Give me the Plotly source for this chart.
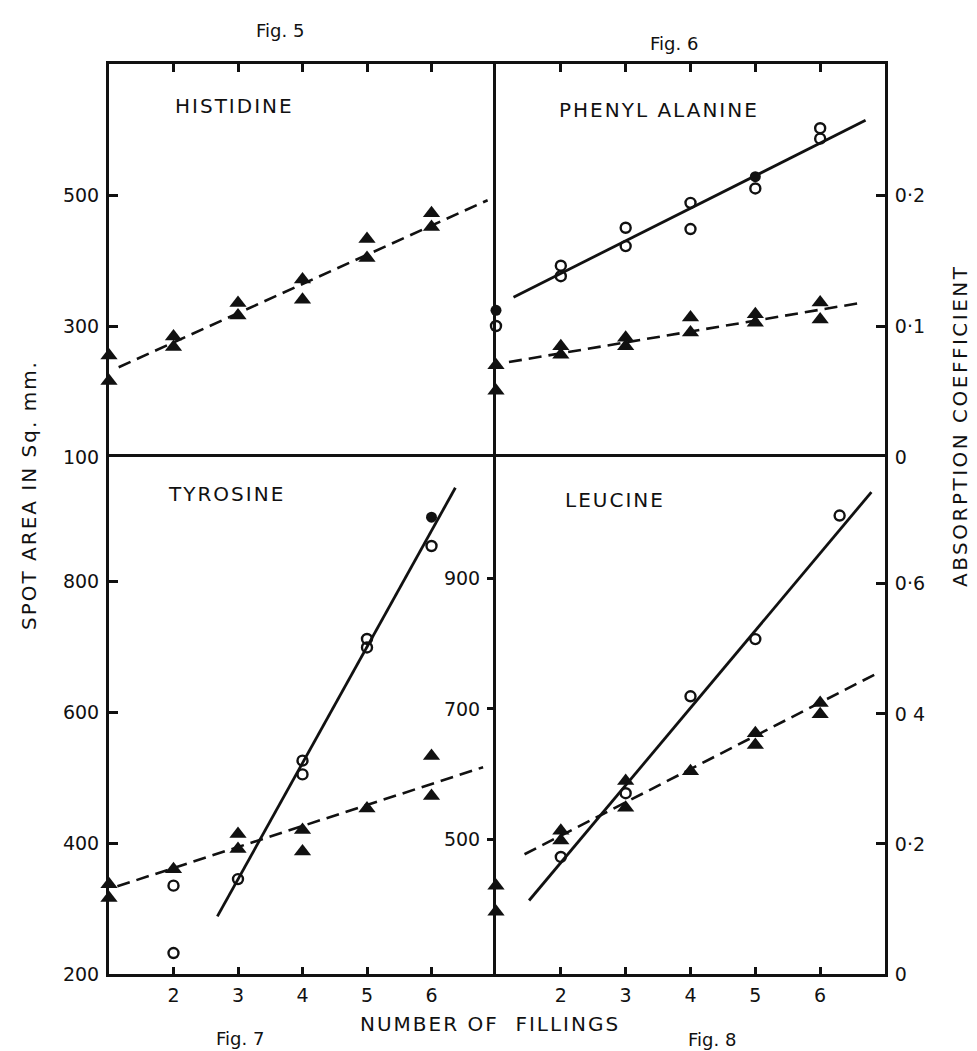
import plotly.graph_objects as go

# ---------------- data ----------------
fillings_ticks = [2, 3, 4, 5, 6]

# Fig. 5  HISTIDINE  (spot area, sq. mm)
his_x = [1, 1, 2, 2, 3, 3, 4, 4, 5, 5, 6, 6]
his_y = [255, 216, 284, 268, 335, 316, 371, 340, 433, 404, 472, 451]
his_fit_x = [1.15, 6.87]
his_fit_y = [237, 492]

# Fig. 6  PHENYL ALANINE
phe_area_x = [1, 1, 2, 2, 3, 3, 4, 4, 5, 5, 6, 6]
phe_area_y = [240, 201, 269, 256, 282, 269, 313, 290, 318, 305, 336, 310]
phe_area_fit_x = [1.2, 6.67]
phe_area_fit_y = [245, 336]
phe_abs_x = [1, 2, 2, 3, 3, 4, 4, 5, 6, 6]
phe_abs_y = [0.100, 0.146, 0.138, 0.175, 0.161, 0.194, 0.174, 0.205, 0.251, 0.243]
phe_abs_filled_x = [1, 5]
phe_abs_filled_y = [0.112, 0.214]
phe_abs_fit_x = [1.27, 6.7]
phe_abs_fit_y = [0.122, 0.257]

# Fig. 7  TYROSINE
tyr_area_x = [1, 1, 2, 3, 3, 4, 4, 5, 6, 6]
tyr_area_y = [337, 316, 360, 414, 391, 420, 387, 453, 533, 472]
tyr_area_fit_x = [1.13, 6.8]
tyr_area_fit_y = [334, 516]
tyr_open_x = [2, 2, 3, 4, 4, 5, 5, 6]
tyr_open_y = [335, 232, 345, 526, 505, 712, 699, 854]
tyr_filled_x = [6]
tyr_filled_y = [898]
tyr_fit_x = [2.68, 6.37]
tyr_fit_y = [288, 943]

# Fig. 8  LEUCINE
leu_area_x = [1, 1, 2, 2, 3, 3, 4, 5, 5, 6, 6]
leu_area_y = [430, 390, 514, 499, 590, 549, 605, 663, 645, 709, 692]
leu_area_fit_x = [1.44, 6.85]
leu_area_fit_y = [478, 753]
leu_abs_x = [2, 3, 4, 5, 6.3]
leu_abs_y = [0.180, 0.278, 0.427, 0.515, 0.705]
leu_abs_fit_x = [1.51, 6.79]
leu_abs_fit_y = [0.113, 0.741]

# tick labels
area_top_ticks = [100, 300, 500]
area_bl_ticks = [200, 400, 600, 800]
area_br_ticks = [500, 700, 900]
abs_top_ticks = [0, 0.1, 0.2]
abs_top_text = ["0", "0·1", "0·2"]
abs_bot_ticks = [0, 0.2, 0.4, 0.6]
abs_bot_text = ["0", "0·2", "0 4", "0·6"]

# ---------------- layout geometry ----------------
W, H = 977, 1051
xl, xm, xr = 101 / W, 488 / W, 877 / W
yt, ym, yb = 1 - 56 / H, 1 - 449 / H, 1 - 966 / H

FONT = "DejaVu Sans"
BLK = "#111111"

fig = go.Figure()

tri = dict(symbol="triangle-up", size=15, color=BLK)
opc = dict(symbol="circle-open", size=10, color=BLK, line=dict(width=2.4, color=BLK))
flc = dict(symbol="circle", size=11, color=BLK)
dash_line = dict(color=BLK, width=2.6, dash="13px,7px")
solid_line = dict(color=BLK, width=2.8)


def add(x, y, xa, ya, mode, marker=None, line=None):
    kw = dict(x=x, y=y, xaxis=xa, yaxis=ya, mode=mode, showlegend=False, hoverinfo="skip",
              cliponaxis=False)
    if marker:
        kw["marker"] = marker
    if line:
        kw["line"] = line
    fig.add_trace(go.Scatter(**kw))


# Fig 5
add(his_fit_x, his_fit_y, "x", "y", "lines", line=dash_line)
add(his_x, his_y, "x", "y", "markers", marker=tri)
# Fig 6
add(phe_area_fit_x, phe_area_fit_y, "x2", "y5", "lines", line=dash_line)
add(phe_area_x, phe_area_y, "x2", "y5", "markers", marker=tri)
add(phe_abs_fit_x, phe_abs_fit_y, "x2", "y2", "lines", line=solid_line)
add(phe_abs_x, phe_abs_y, "x2", "y2", "markers", marker=opc)
add(phe_abs_filled_x, phe_abs_filled_y, "x2", "y2", "markers", marker=flc)
# Fig 7
add(tyr_area_fit_x, tyr_area_fit_y, "x3", "y3", "lines", line=dash_line)
add(tyr_area_x, tyr_area_y, "x3", "y3", "markers", marker=tri)
add(tyr_fit_x, tyr_fit_y, "x3", "y3", "lines", line=solid_line)
add(tyr_open_x, tyr_open_y, "x3", "y3", "markers", marker=opc)
add(tyr_filled_x, tyr_filled_y, "x3", "y3", "markers", marker=flc)
# Fig 8
add(leu_area_fit_x, leu_area_fit_y, "x4", "y4", "lines", line=dash_line)
add(leu_area_x, leu_area_y, "x4", "y4", "markers", marker=tri)
add(leu_abs_fit_x, leu_abs_fit_y, "x4", "y6", "lines", line=solid_line)
add(leu_abs_x, leu_abs_y, "x4", "y6", "markers", marker=opc)

tickfont = dict(family=FONT, size=19, color=BLK)
frame = dict(showline=True, linecolor=BLK, linewidth=3, showgrid=False, zeroline=False,
             tickcolor=BLK, tickwidth=2.5, tickfont=tickfont, fixedrange=True, automargin=False)

fig.update_layout(
    width=W, height=H,
    margin=dict(l=0, r=0, t=0, b=0, autoexpand=False),
    paper_bgcolor="white", plot_bgcolor="white",
    font=dict(family=FONT, color=BLK),
    # Fig 5: top + left edges
    xaxis=dict(domain=[xl, xm], range=[1, 7], anchor="y", side="top",
               tickvals=fillings_ticks, ticks="inside", ticklen=8, showticklabels=False, **frame),
    yaxis=dict(domain=[ym, yt], range=[100, 700], anchor="x", side="left",
               tickvals=area_top_ticks, ticks="inside", ticklen=9, ticklabelstandoff=3, **frame),
    # Fig 6: top + right edges, divider on the left
    xaxis2=dict(domain=[xm, xr], range=[1, 7], anchor="y2", side="top",
                tickvals=fillings_ticks, ticks="inside", ticklen=8, showticklabels=False, **frame),
    yaxis2=dict(domain=[ym, yt], range=[0, 0.30], anchor="x2", side="right",
                tickvals=abs_top_ticks, ticktext=abs_top_text, ticks="inside", ticklen=9,
                ticklabelstandoff=3, **frame),
    yaxis5=dict(range=[100, 700], overlaying="y2", anchor="x2", side="left", showline=True,
                linecolor=BLK, linewidth=3, showgrid=False, zeroline=False, ticks="",
                showticklabels=False, fixedrange=True, automargin=False),
    # Fig 7: bottom + left edges, divider on top
    xaxis3=dict(domain=[xl, xm], range=[1, 7], anchor="y3", side="bottom", mirror=True,
                tickvals=fillings_ticks, ticks="inside", ticklen=7, ticklabelstandoff=2, **frame),
    yaxis3=dict(domain=[yb, ym], range=[200, 990], anchor="x3", side="left",
                tickvals=area_bl_ticks, ticks="inside", ticklen=9, ticklabelstandoff=3, **frame),
    # Fig 8: bottom + right edges, divider on top and left
    xaxis4=dict(domain=[xm, xr], range=[1, 7], anchor="y4", side="bottom", mirror=True,
                tickvals=fillings_ticks, ticks="inside", ticklen=7, ticklabelstandoff=2, **frame),
    yaxis4=dict(domain=[yb, ym], range=[295, 1085], anchor="x4", side="left",
                tickvals=area_br_ticks, ticks="outside", ticklen=6, ticklabelstandoff=3, **frame),
    yaxis6=dict(range=[0, 0.795], overlaying="y4", anchor="x4", side="right",
                tickvals=abs_bot_ticks, ticktext=abs_bot_text, ticks="inside", ticklen=9,
                ticklabelstandoff=3, **frame),
)


def note(text, x, y, size=19, angle=0, spacing=0):
    if spacing:
        text = '<span style="letter-spacing:%gpx">%s</span>' % (spacing, text)
    fig.add_annotation(text=text, x=x / W, y=1 - y / H, xref="paper", yref="paper",
                       showarrow=False, textangle=angle, xanchor="center", yanchor="middle",
                       font=dict(family=FONT, size=size, color=BLK))


note("Fig. 5", 272, 23, size=18)
note("Fig. 6", 666, 35, size=18)
note("Fig. 7", 232, 1030, size=18)
note("Fig. 8", 704, 1031, size=18)
note("HISTIDINE", 226, 98, size=20, spacing=2)
note("PHENYL ALANINE", 651, 102, size=20, spacing=2)
note("TYROSINE", 218, 486, size=20, spacing=2)
note("LEUCINE", 607, 492, size=20, spacing=2)
note("NUMBER OF  FILLINGS", 482, 1016, size=20, spacing=2)
note("SPOT AREA IN Sq. mm.", 21, 487, size=20, angle=-90, spacing=2)
note("ABSORPTION COEFFICIENT", 952, 418, size=20, angle=-90, spacing=2.5)

fig.write_html("out.html")
